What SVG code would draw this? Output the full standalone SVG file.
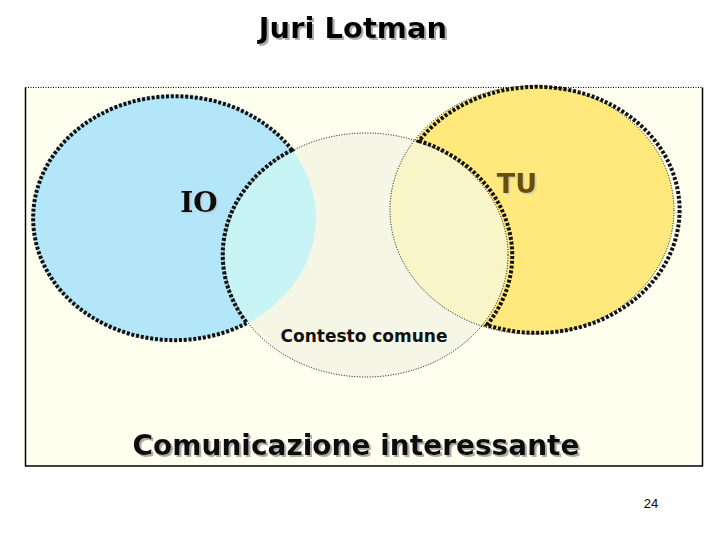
<svg xmlns="http://www.w3.org/2000/svg" width="720" height="540" viewBox="0 0 720 540">
<defs>
<style>
.thin{fill:none;stroke:#000;stroke-width:1;stroke-dasharray:1 1.6}
.bound{fill:none;stroke:#111;stroke-width:4;stroke-dasharray:3 1.8}
.t{font-family:"DejaVu Sans",Verdana,sans-serif;font-weight:bold;text-anchor:middle}
</style>
<filter id="sh" x="-10%" y="-20%" width="130%" height="150%">
<feDropShadow dx="2" dy="2" stdDeviation="0.6" flood-color="#999" flood-opacity="0.8"/>
</filter>
<filter id="sh2" x="-10%" y="-20%" width="130%" height="150%">
<feDropShadow dx="1.5" dy="1.5" stdDeviation="0.6" flood-color="#bbb" flood-opacity="0.6"/>
</filter>
<clipPath id="cc"><ellipse cx="366" cy="255" rx="142" ry="122"/></clipPath>
</defs>
<rect width="720" height="540" fill="#fff"/>
<g id="frame">
<rect x="25.5" y="87.5" width="677" height="378.5" fill="#FFFFF0" stroke="none"/>
<path d="M25.5 87.5V466H702.5V87.5" fill="none" stroke="#000" stroke-width="1.5"/>
<path d="M25.5 87.5H702.5" fill="none" stroke="#000" stroke-width="1" stroke-dasharray="1 1.5"/>
</g>
<text class="t" x="353" y="38" font-size="29" filter="url(#sh)">Juri Lotman</text>
<g id="io">
<ellipse cx="174" cy="218" rx="142" ry="123" fill="#B4E6FA"/>
</g>
<g id="tu">
<ellipse cx="532" cy="210" rx="142" ry="124" fill="#FFE97C"/>
</g>
<g id="contesto">
<ellipse cx="366" cy="255" rx="142" ry="122" fill="#F6F6E6"/>
<g clip-path="url(#cc)">
<ellipse cx="174" cy="218" rx="142" ry="123" fill="#C8F4F6"/>
<ellipse cx="532" cy="210" rx="142" ry="124" fill="#F8F6C8"/>
</g>
<ellipse class="thin" cx="366" cy="255" rx="142" ry="122"/>
<ellipse class="thin" cx="532" cy="210" rx="142" ry="124"/>
<text class="t" x="364" y="342" font-size="17" fill="#111">Contesto comune</text>
</g>
<g id="connectors">
<path class="bound" d="M292 150A142 122 0 0 0 247 323A141.5 122 0 1 1 292 150Z"/>
<path class="bound" d="M419 141A142 122 0 0 1 487 325A142.5 123 0 1 0 419 141Z"/>
</g>
<text x="199" y="212" font-family="'DejaVu Serif',Georgia,serif" font-weight="bold" font-size="28" text-anchor="middle" fill="#111" filter="url(#sh2)">IO</text>
<text class="t" x="517" y="193" font-size="27" fill="#665000" filter="url(#sh2)">TU</text>
<text class="t" x="356" y="455" font-size="28" fill="#111" filter="url(#sh)">Comunicazione interessante</text>
<text x="651" y="508" font-family="'Liberation Sans',Arial,sans-serif" font-size="13" text-anchor="middle">24</text>
</svg>
